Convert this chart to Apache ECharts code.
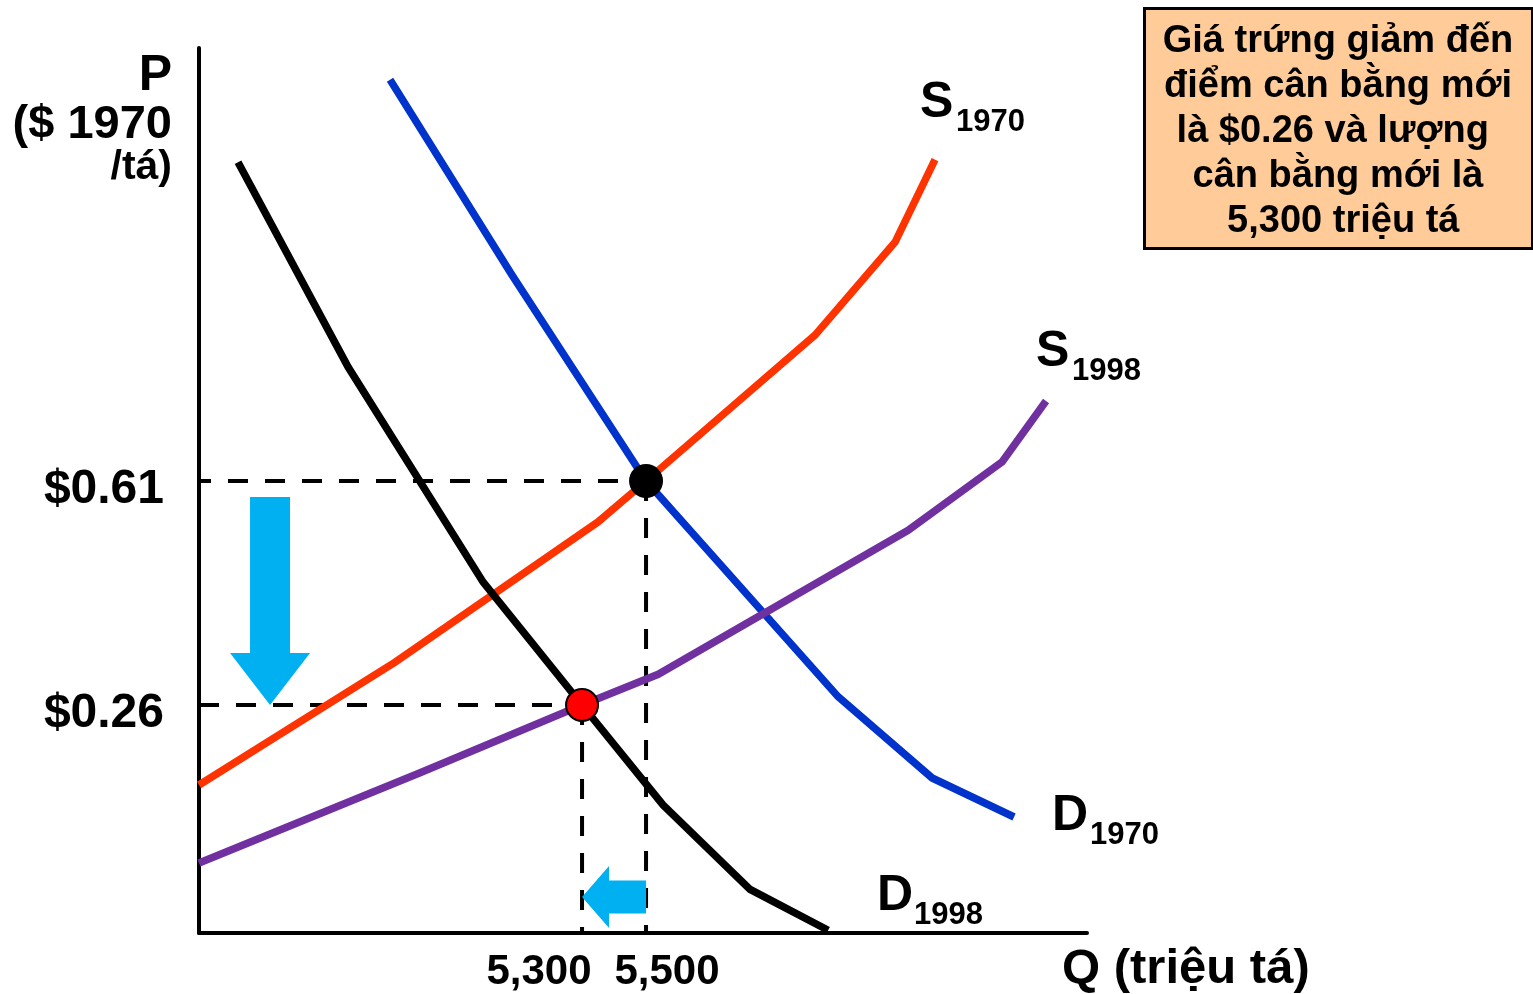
<!DOCTYPE html>
<html>
<head>
<meta charset="utf-8">
<script src="https://cdn.jsdelivr.net/npm/echarts@6/dist/echarts.min.js"></script>
<style>
html,body{margin:0;padding:0;background:#fff;}
#chart{width:1533px;height:994px;}
</style>
</head>
<body>
<div id="chart"></div>
<script>
// ---- data ----
const xTickValues = [5300, 5500];
const xTickLabels = ['5,300', '5,500'];
const yTickValues = [0.26, 0.61];
const yTickLabels = ['$0.26', '$0.61'];

const demand1998 = [[4225, 1.108], [4569, 0.788], [4991, 0.452], [5300, 0.26], [5553, 0.104], [5825, -0.028], [6069, -0.092]];
const demand1970 = [[4700, 1.237], [5081, 0.932], [5500, 0.61], [6100, 0.273], [6394, 0.146], [6650, 0.085]];
const supply1970 = [[4103, 0.135], [4716, 0.327], [5350, 0.546], [5500, 0.61], [6028, 0.838], [6278, 0.983], [6403, 1.112]];
const supply1998 = [[4103, 0.013], [4794, 0.154], [5300, 0.26], [5538, 0.308], [6319, 0.533], [6613, 0.640], [6750, 0.735]];

const curveNames = ['D1970', 'S1970', 'S1998', 'D1998'];
const curveLetters = ['D', 'S', 'S', 'D'];
const curveYears = ['1970', '1970', '1998', '1998'];

const oldEquilibrium = [5500, 0.61];
const newEquilibrium = [5300, 0.26];
const priceArrow = [4325, 0.585, 4325, 0.26];
const quantityArrow = [5500, -0.04, 5300, -0.04];

const xMin = 4103, xMax = 6878, yMin = -0.09625, yMax = 1.28656;
const guideStartX = 4078;

const yAxisTitle = ['P', '($ 1970', '/tá)'];
const xAxisTitle = 'Q (triệu tá)';
const noteText = ['Giá trứng giảm đến', 'điểm cân bằng mới', 'là $0.26 và lượng ', 'cân bằng mới là', ' 5,300 triệu tá'];

// ---- styles / layout ----
const FONT = '"Liberation Sans", Arial, sans-serif';
const curveColors = ['#0033CC', '#FF3300', '#7030A0', '#000000'];
// pixel offsets of label pieces from each curve's end point: [letterDx, letterDy, subDx, subDy]
const curveLabelOffsets = [[38, -1, 76, 18], [-15, -56, 21, -37], [-10, -49, 26, -30], [49, -34, 86, -15]];
const arrowStyles = [
  { shaft: 40, headW: 80, head: 52 },
  { shaft: 33, headW: 62, head: 27 }
];
const xTickPadding = [[0, 86, 0, 0], [0, 0, 0, 42]];

function curve(name, data, color) {
  return {
    name: name, type: 'line', data: data, showSymbol: false, symbol: 'none',
    lineStyle: { color: color, width: 7.5, cap: 'butt', join: 'miter' },
    clip: false, z: 3
  };
}

function guide(data) {
  return {
    type: 'line', data: data, showSymbol: false, symbol: 'none', clip: false, z: 2,
    lineStyle: { color: '#000', width: 4, type: [20, 17] }
  };
}

const chart = echarts.init(document.getElementById('chart'), null, { renderer: 'canvas' });
const curvesData = [demand1970, supply1970, supply1998, demand1998];

const xRich = {};
xTickLabels.forEach((t, i) => {
  xRich['t' + i] = { fontSize: 42, fontWeight: 'bold', fontFamily: FONT, color: '#000', padding: xTickPadding[i] };
});

const option = {
  animation: false,
  backgroundColor: '#fff',
  grid: { left: 199, right: 1533 - 1087, top: 48, bottom: 994 - 933, containLabel: false },
  xAxis: {
    type: 'value', min: xMin, max: xMax,
    axisLine: { show: true, onZero: false, lineStyle: { color: '#000', width: 4 } },
    axisTick: { show: false },
    splitLine: { show: false },
    axisLabel: {
      customValues: xTickValues,
      hideOverlap: false,
      margin: 18,
      formatter: v => { const i = xTickValues.indexOf(v); return '{t' + i + '|' + xTickLabels[i] + '}'; },
      rich: xRich,
      fontSize: 42, fontWeight: 'bold', fontFamily: FONT, color: '#000'
    }
  },
  yAxis: {
    type: 'value', min: yMin, max: yMax,
    axisLine: { show: true, onZero: false, lineStyle: { color: '#000', width: 4 } },
    axisTick: { show: false },
    splitLine: { show: false },
    axisLabel: {
      customValues: yTickValues,
      hideOverlap: false,
      margin: 35,
      formatter: v => '{p|' + yTickLabels[yTickValues.indexOf(v)] + '}',
      rich: { p: { fontSize: 48, fontWeight: 'bold', fontFamily: FONT, color: '#000', padding: [17, 0, 0, 0] } },
      fontSize: 48, fontWeight: 'bold', fontFamily: FONT, color: '#000'
    }
  },
  series: [
    guide([[guideStartX, oldEquilibrium[1]], oldEquilibrium]),
    guide([oldEquilibrium, [oldEquilibrium[0], yMin]]),
    guide([[xMin, newEquilibrium[1]], newEquilibrium]),
    guide([newEquilibrium, [newEquilibrium[0], yMin]]),
    ...curvesData.map((d, i) => curve(curveNames[i], d, curveColors[i])),
    {
      type: 'custom', clip: false, z: 4,
      data: [priceArrow, quantityArrow],
      encode: { x: [0, 2], y: [1, 3] },
      renderItem: function (params, api) {
        const p1 = api.coord([api.value(0), api.value(1)]);
        const p2 = api.coord([api.value(2), api.value(3)]);
        const st = arrowStyles[params.dataIndex];
        const dx = p2[0] - p1[0], dy = p2[1] - p1[1];
        const len = Math.hypot(dx, dy);
        const ux = dx / len, uy = dy / len, nx = -uy, ny = ux;
        const hb = [p2[0] - ux * st.head, p2[1] - uy * st.head];
        const sw = st.shaft / 2, hw = st.headW / 2;
        const pts = [
          [p1[0] + nx * sw, p1[1] + ny * sw],
          [hb[0] + nx * sw, hb[1] + ny * sw],
          [hb[0] + nx * hw, hb[1] + ny * hw],
          [p2[0], p2[1]],
          [hb[0] - nx * hw, hb[1] - ny * hw],
          [hb[0] - nx * sw, hb[1] - ny * sw],
          [p1[0] - nx * sw, p1[1] - ny * sw]
        ];
        return { type: 'polygon', shape: { points: pts }, style: { fill: '#00B0F0' } };
      }
    },
    {
      type: 'scatter', z: 6, clip: false,
      data: [oldEquilibrium], symbol: 'circle', symbolSize: 34,
      itemStyle: { color: '#000', opacity: 1 }
    },
    {
      type: 'scatter', z: 6, clip: false,
      data: [newEquilibrium], symbol: 'circle', symbolSize: 32,
      itemStyle: { color: '#FF0000', borderColor: '#000', borderWidth: 2, opacity: 1 }
    }
  ],
  graphic: [
    {
      type: 'text', x: 172, y: 76,
      style: { text: yAxisTitle[0], font: 'bold 50px ' + FONT, fill: '#000', align: 'right', verticalAlign: 'middle' }
    },
    {
      type: 'text', x: 172, y: 125,
      style: { text: yAxisTitle[1], font: 'bold 47px ' + FONT, fill: '#000', align: 'right', verticalAlign: 'middle' }
    },
    {
      type: 'text', x: 172, y: 168,
      style: { text: yAxisTitle[2], font: 'bold 41px ' + FONT, fill: '#000', align: 'right', verticalAlign: 'middle' }
    },
    {
      type: 'text', x: 1062, y: 969,
      style: { text: xAxisTitle, font: 'bold 49px ' + FONT, fill: '#000', verticalAlign: 'middle' }
    },
    {
      type: 'rect', left: 1143, top: 7,
      shape: { width: 388, height: 240 },
      style: { fill: '#FFCC99', stroke: '#000', lineWidth: 3 }
    },
    {
      type: 'text', x: 1338, y: 19, z: 100,
      style: {
        text: noteText.join('\n'), font: 'bold 38px ' + FONT, fill: '#000',
        align: 'center', verticalAlign: 'top', lineHeight: 45
      }
    }
  ]
};
chart.setOption(option);

// curve name labels anchored at each curve's last data point
const labelGraphics = [];
curvesData.forEach((d, i) => {
  const end = chart.convertToPixel({ gridIndex: 0 }, d[d.length - 1]);
  const o = curveLabelOffsets[i];
  labelGraphics.push({
    type: 'text', x: end[0] + o[0], y: end[1] + o[1], z: 50,
    style: { text: curveLetters[i], font: 'bold 50px ' + FONT, fill: '#000', align: 'left', verticalAlign: 'middle' }
  });
  labelGraphics.push({
    type: 'text', x: end[0] + o[2], y: end[1] + o[3], z: 50,
    style: { text: curveYears[i], font: 'bold 31px ' + FONT, fill: '#000', align: 'left', verticalAlign: 'middle' }
  });
});
chart.setOption({ graphic: option.graphic.concat(labelGraphics) });
</script>
</body>
</html>
